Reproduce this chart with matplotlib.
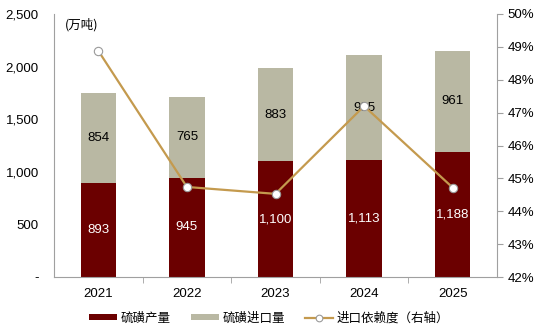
import matplotlib
matplotlib.use("Agg")
import matplotlib.pyplot as plt
from matplotlib.ticker import FuncFormatter, MultipleLocator

plt.rcParams["font.family"] = ["Liberation Sans", "Noto Sans CJK SC", "DejaVu Sans"]

years = ["2021", "2022", "2023", "2024", "2025"]
output = [893, 945, 1100, 1113, 1188]
imports = [854, 765, 883, 995, 961]
dependence = [48.88, 44.74, 44.53, 47.20, 44.72]

red = "#6B0000"
grey = "#B9B8A3"
gold = "#C49A4E"

fig = plt.figure(figsize=(5.38, 3.33), dpi=100)
ax = fig.add_axes([0.1004, 0.168, 0.8234, 0.79])
x = list(range(len(years)))

ax.bar(x, output, width=0.4, color=red, label="硫磺产量", zorder=2)
ax.bar(x, imports, width=0.4, bottom=output, color=grey, label="硫磺进口量", zorder=2)

for i in x:
    ax.text(i, output[i] / 2, f"{output[i]:,}", ha="center", va="center",
            color="white", fontsize=9.5)
    ax.text(i, output[i] + imports[i] / 2, f"{imports[i]:,}", ha="center",
            va="center", color="black", fontsize=9.5)

ax.set_xlim(-0.5, 4.5)
ax.set_ylim(0, 2500)
ax.yaxis.set_major_locator(MultipleLocator(500))
ax.yaxis.set_major_formatter(FuncFormatter(lambda v, p: "-" if v == 0 else f"{v:,.0f}"))
ax.set_xticks(x)
ax.set_xticklabels(years)
ax.set_xticks([i + 0.5 for i in x[:-1]], minor=True)
ax.tick_params(axis="x", which="major", length=0, labelsize=9.5, pad=8)
ax.tick_params(axis="x", which="minor", length=4, color="#A0A0A0")
ax.tick_params(axis="y", length=0, labelsize=9.5, pad=11)
for s in ["top", "right"]:
    ax.spines[s].set_visible(False)
for s in ["left", "bottom"]:
    ax.spines[s].set_color("#A0A0A0")
ax.text(0.025, 0.985, "(万吨)", transform=ax.transAxes, ha="left", va="top",
        fontsize=9, family=["Noto Sans CJK SC", "DejaVu Sans"])

ax2 = ax.twinx()
ax2.plot(x, dependence, color=gold, lw=1.6, marker="o", markersize=6,
         markerfacecolor="white", markeredgecolor="#9A9A9A", markeredgewidth=0.8,
         label="进口依赖度（右轴）", zorder=3)
ax2.set_ylim(42, 50)
ax2.yaxis.set_major_locator(MultipleLocator(1))
ax2.yaxis.set_major_formatter(FuncFormatter(lambda v, p: f"{v:.0f}%"))
ax2.tick_params(axis="y", length=4, color="#A0A0A0", labelsize=9.5)
for s in ["top", "left", "bottom"]:
    ax2.spines[s].set_visible(False)
ax2.spines["right"].set_color("#A0A0A0")

h1, l1 = ax.get_legend_handles_labels()
h2, l2 = ax2.get_legend_handles_labels()
leg = fig.legend(h1 + h2, l1 + l2, loc="center", bbox_to_anchor=(0.5, 0.045), ncol=3,
                 frameon=False, handlelength=2.25, handleheight=0.45, handletextpad=0.3,
                 columnspacing=1.6, markerscale=0.8,
                 prop={"family": ["Noto Sans CJK SC", "DejaVu Sans"], "size": 9})

fig.savefig("out.png", dpi=100)
